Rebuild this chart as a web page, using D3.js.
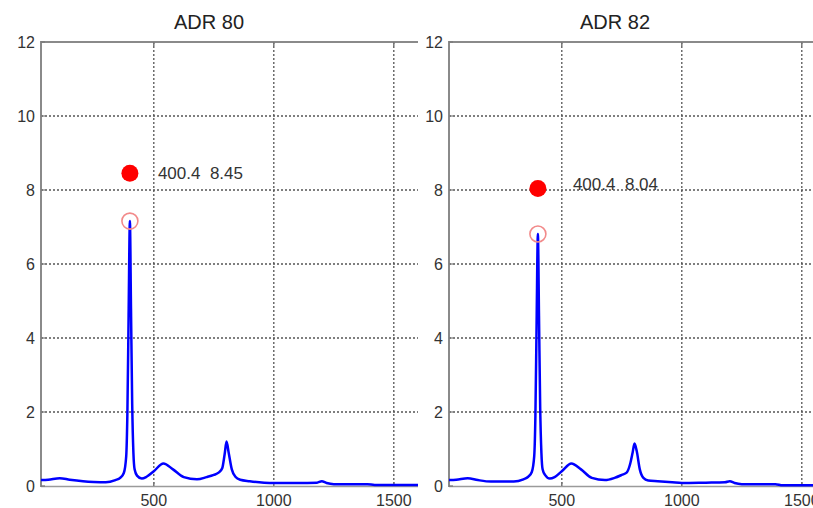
<!DOCTYPE html>
<html>
<head>
<meta charset="utf-8">
<script src="https://cdn.jsdelivr.net/npm/d3@7"></script>
<style>
  body { margin: 0; background: #fff; }
  text { font-family: "Liberation Sans", Arial, sans-serif; }
</style>
</head>
<body>
<svg id="chart" width="813" height="508"></svg>
<script>
// Raman-type spectra, two samples, shared wavenumber axis
const wavenumber = [30, 60, 108, 150, 205, 250, 300, 340, 360, 375, 385, 390, 395, 400.4, 405, 410, 415, 420, 430, 450, 470, 500, 540, 580, 625, 680, 720, 750, 770, 785, 795, 803, 812, 825, 840, 860, 900, 960, 1000, 1100, 1180, 1200, 1220, 1250, 1300, 1390, 1420, 1500, 1640];
const adr80 = [0.16, 0.17, 0.21, 0.17, 0.13, 0.11, 0.10, 0.16, 0.22, 0.35, 0.8, 2.0, 4.6, 7.16, 4.8, 2.2, 0.9, 0.45, 0.28, 0.2, 0.25, 0.4, 0.61, 0.45, 0.24, 0.18, 0.24, 0.3, 0.36, 0.48, 0.85, 1.2, 0.9, 0.45, 0.25, 0.17, 0.13, 0.09, 0.08, 0.08, 0.09, 0.13, 0.08, 0.05, 0.05, 0.05, 0.03, 0.03, 0.03];
const adr82 = [0.16, 0.17, 0.21, 0.16, 0.12, 0.12, 0.12, 0.18, 0.25, 0.38, 0.8, 1.9, 4.4, 6.81, 4.6, 2.1, 0.9, 0.45, 0.3, 0.2, 0.24, 0.4, 0.61, 0.45, 0.22, 0.16, 0.22, 0.3, 0.36, 0.6, 0.9, 1.15, 0.95, 0.45, 0.22, 0.15, 0.13, 0.1, 0.08, 0.09, 0.1, 0.13, 0.08, 0.05, 0.05, 0.05, 0.02, 0.02, 0.02];

const panelTitles = ["ADR 80", "ADR 82"];
const peakX = [400.4, 400.4];
const peakY = [7.16, 6.81];
const markerX = [400.4, 400.4];
const markerY = [8.45, 8.04];

const xTicks = [500, 1000, 1500];
const yTicks = [0, 2, 4, 6, 8, 10, 12];
const xDomain = [30, 1640];
const yDomain = [0, 12];

const series = [adr80, adr82];

// Panel placement on the page
const layout = [
  { left: 41, clipLeft: 0, clipRight: 418, labelDx: 28, labelDy: 0, titleX: 209 },
  { left: 449, clipLeft: 418, clipRight: 813, labelDx: 35, labelDy: -5, titleX: 615 }
];
const plotTop = 42, plotBottom = 486, pxPerUnit = 0.24;

const svg = d3.select("#chart");
const defs = svg.append("defs");

// Remnant of a neighbouring panel at the far left edge
const stub = svg.append("g");
const yStub = d3.scaleLinear().domain(yDomain).range([plotBottom, plotTop]);
stub.selectAll("line").data(yTicks.filter(d => d > 0)).join("line")
  .attr("x1", 12).attr("x2", 16)
  .attr("y1", d => yStub(d)).attr("y2", d => yStub(d))
  .attr("stroke", "#888").attr("stroke-width", 2);
stub.append("line").attr("x1", 12).attr("x2", 17)
  .attr("y1", yStub(0) - 1).attr("y2", yStub(0) - 1)
  .attr("stroke", "#0000ff").attr("stroke-width", 2.5);

panelTitles.forEach((title, i) => {
  const L = layout[i];
  const x = d3.scaleLinear().domain(xDomain)
    .range([L.left, L.left + (xDomain[1] - xDomain[0]) * pxPerUnit]);
  const y = d3.scaleLinear().domain(yDomain).range([plotBottom, plotTop]);

  defs.append("clipPath").attr("id", "clip" + i)
    .append("rect").attr("x", L.clipLeft).attr("y", 0)
    .attr("width", L.clipRight - L.clipLeft).attr("height", 508);

  const g = svg.append("g").attr("clip-path", `url(#clip${i})`);

  g.append("rect").attr("x", L.clipLeft).attr("y", 0)
    .attr("width", L.clipRight - L.clipLeft).attr("height", 508).attr("fill", "#fff");

  const x0 = x.range()[0], x1 = x.range()[1];

  // dotted grid
  g.append("g").selectAll("line").data(yTicks.filter(d => d > 0 && d < 12)).join("line")
    .attr("x1", x0).attr("x2", x1)
    .attr("y1", d => y(d)).attr("y2", d => y(d))
    .attr("stroke", "#555").attr("stroke-width", 1.3).attr("stroke-dasharray", "2,2");
  g.append("g").selectAll("line").data(xTicks).join("line")
    .attr("x1", d => x(d)).attr("x2", d => x(d))
    .attr("y1", plotTop).attr("y2", plotBottom)
    .attr("stroke", "#555").attr("stroke-width", 1.3).attr("stroke-dasharray", "2,2");

  // box lines: top, left, bottom
  g.append("line").attr("x1", x0).attr("x2", x1).attr("y1", plotTop).attr("y2", plotTop)
    .attr("stroke", "#8a8a8a").attr("stroke-width", 2);
  g.append("line").attr("x1", x0).attr("x2", x1).attr("y1", plotBottom + 0.5).attr("y2", plotBottom + 0.5)
    .attr("stroke", "#9a9a9a").attr("stroke-width", 1.5);
  g.append("line").attr("x1", x0).attr("x2", x0).attr("y1", plotTop - 1).attr("y2", plotBottom + 1)
    .attr("stroke", "#8a8a8a").attr("stroke-width", 2);

  // inward ticks
  g.append("g").selectAll("line").data(yTicks).join("line")
    .attr("x1", x0).attr("x2", x0 + 4)
    .attr("y1", d => y(d)).attr("y2", d => y(d))
    .attr("stroke", "#777").attr("stroke-width", 1.2);
  g.append("g").selectAll("line").data(xTicks).join("line")
    .attr("x1", d => x(d)).attr("x2", d => x(d))
    .attr("y1", plotTop).attr("y2", plotTop + 4)
    .attr("stroke", "#777").attr("stroke-width", 1.5);
  g.append("g").selectAll("line").data(xTicks).join("line")
    .attr("x1", d => x(d)).attr("x2", d => x(d))
    .attr("y1", plotBottom - 4).attr("y2", plotBottom)
    .attr("stroke", "#777").attr("stroke-width", 1.5);

  // tick labels
  g.append("g").selectAll("text").data(yTicks).join("text")
    .attr("x", x0 - 6).attr("y", d => y(d)).attr("dy", "0.36em")
    .attr("text-anchor", "end").attr("font-size", 16).attr("fill", "#333")
    .text(d => d);
  g.append("g").selectAll("text").data(xTicks).join("text")
    .attr("x", d => x(d)).attr("y", plotBottom + 14).attr("dy", "0.36em")
    .attr("text-anchor", "middle").attr("font-size", 16).attr("fill", "#333")
    .text(d => d);

  // title
  g.append("text").attr("x", L.titleX).attr("y", 22).attr("dy", "0.36em")
    .attr("text-anchor", "middle").attr("font-size", 20).attr("fill", "#222")
    .text(title);

  // spectrum
  const pts = wavenumber.map((w, k) => [w, series[i][k]]);
  const plotClip = "pclip" + i;
  defs.append("clipPath").attr("id", plotClip)
    .append("rect").attr("x", x0).attr("y", plotTop - 10)
    .attr("width", x1 - x0).attr("height", plotBottom - plotTop + 12);
  g.append("path").datum(pts)
    .attr("clip-path", `url(#${plotClip})`)
    .attr("fill", "none").attr("stroke", "#0000ff").attr("stroke-width", 2.5)
    .attr("stroke-linejoin", "round")
    .attr("d", d3.line().x(d => x(d[0])).y(d => y(d[1])).curve(d3.curveMonotoneX));

  // peak marker (open) and labelled point (filled)
  g.append("circle").attr("cx", x(peakX[i])).attr("cy", y(peakY[i])).attr("r", 8)
    .attr("fill", "none").attr("stroke", "#f28a8a").attr("stroke-width", 1.6);
  g.append("circle").attr("cx", x(markerX[i])).attr("cy", y(markerY[i])).attr("r", 8.5)
    .attr("fill", "#ff0000");
  g.append("text")
    .attr("x", x(markerX[i]) + L.labelDx).attr("y", y(markerY[i]) + L.labelDy).attr("dy", "0.36em")
    .attr("font-size", 17).attr("fill", "#333")
    .attr("xml:space", "preserve").style("white-space", "pre")
    .text(`${markerX[i]}  ${markerY[i].toFixed(2)}`);
});
</script>
</body>
</html>
